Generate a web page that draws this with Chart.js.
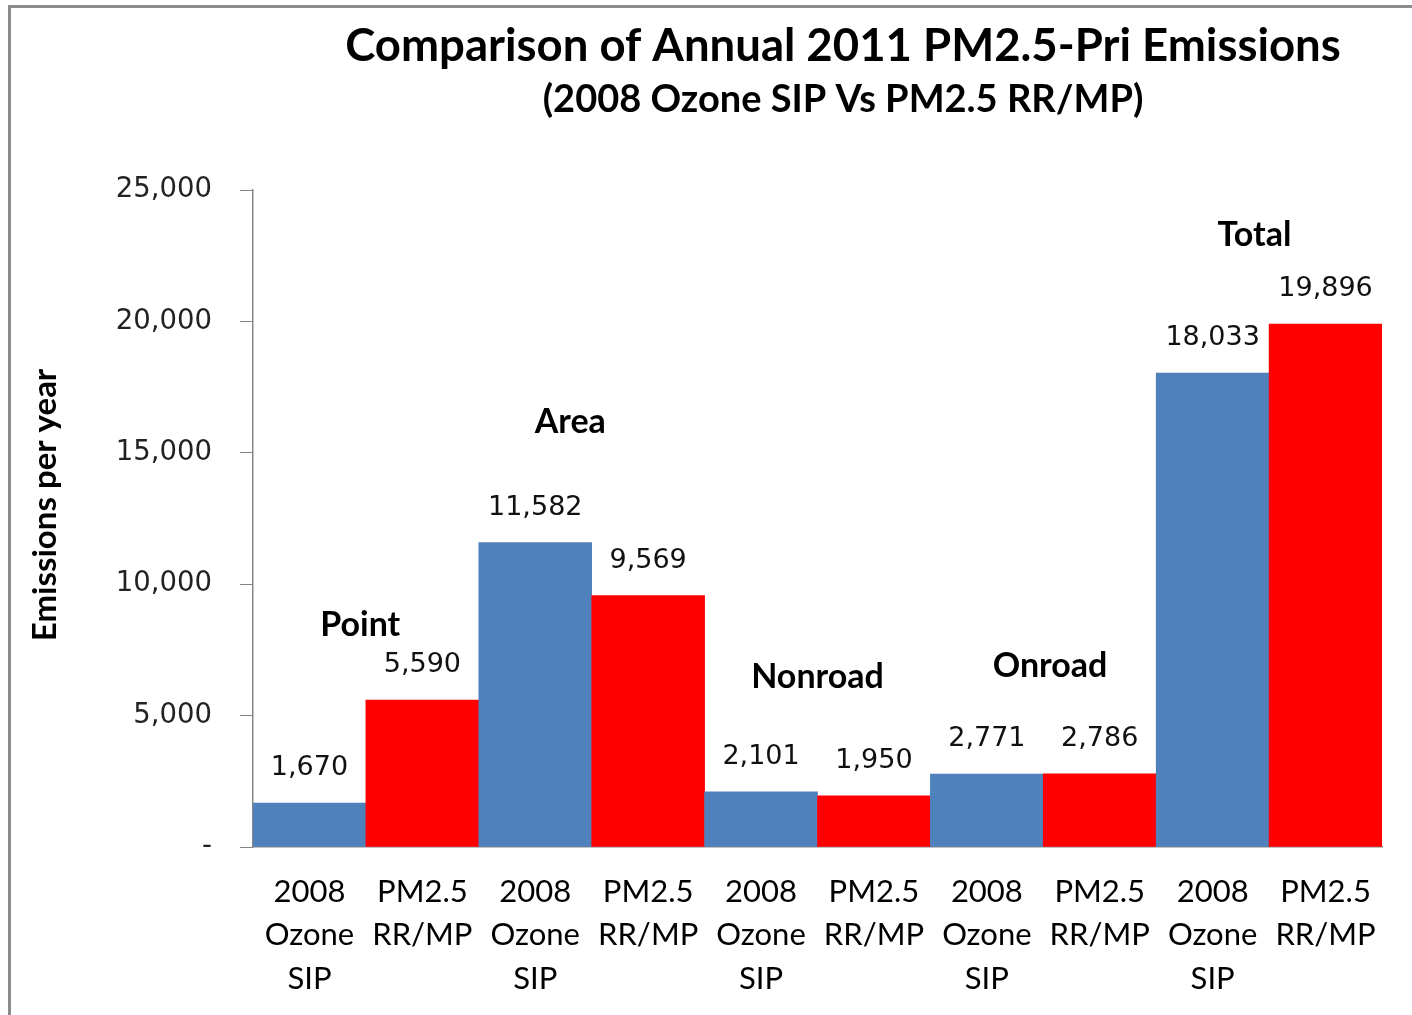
<!DOCTYPE html>
<html>
<head>
<meta charset="utf-8">
<script src="https://cdn.jsdelivr.net/npm/chart.js@4.4.1/dist/chart.umd.min.js"></script>
<style>
html, body { margin: 0; padding: 0; background: #fff; }
#wrap { position: relative; width: 1412px; height: 1015px; overflow: hidden; }
#frame { position: absolute; left: 8px; top: 5px; right: -10px; bottom: -10px;
         border-left: 3px solid #8c8c8c; border-top: 3px solid #8c8c8c; }
canvas { position: absolute; left: 0; top: 0; }
</style>
</head>
<body>
<div id="wrap"><div id="frame"></div><canvas id="chart" width="1412" height="1015"></canvas></div>
<script>
// data
const categories = [
    ['2008', 'Ozone', 'SIP'], ['PM2.5', 'RR/MP'],
    ['2008', 'Ozone', 'SIP'], ['PM2.5', 'RR/MP'],
    ['2008', 'Ozone', 'SIP'], ['PM2.5', 'RR/MP'],
    ['2008', 'Ozone', 'SIP'], ['PM2.5', 'RR/MP'],
    ['2008', 'Ozone', 'SIP'], ['PM2.5', 'RR/MP']
];
const emissions = [1670, 5590, 11582, 9569, 2101, 1950, 2771, 2786, 18033, 19896];
const sourceGroups = ['Point', 'Area', 'Nonroad', 'Onroad', 'Total'];
const yTickValues = [0, 5000, 10000, 15000, 20000, 25000];

// colours
const blue = '#4F81BD';
const red = '#FF0000';
const axisGray = '#868686';
const barColors = emissions.map((v, i) => i % 2 === 0 ? blue : red);

const fmt = (v) => v.toLocaleString('en-US');

// where the group text boxes sit (category index, y value)
const groupSpots = [[0.45, 8450], [2.31, 16170], [4.5, 6470], [6.56, 6890], [8.37, 23290]];

// ===== titles, axis title, bar values, group names
const extras = {
    id: 'extras',
    afterDatasetsDraw(chart) {
        const c = chart.ctx;
        const x = chart.scales.x;
        const y = chart.scales.y;
        c.save();
        c.fillStyle = '#000';
        c.textAlign = 'center';
        c.textBaseline = 'middle';
        // title
        c.font = 'bold 45.5px Lato';
        c.fillText('Comparison of Annual 2011 PM2.5-Pri Emissions', 843, 46);
        c.font = 'bold 38px Lato';
        c.fillText('(2008 Ozone SIP Vs PM2.5 RR/MP)', 843, 100);
        // y axis title
        c.save();
        c.translate(45, 505);
        c.rotate(-Math.PI / 2);
        c.font = 'bold 33px Lato';
        c.fillText('Emissions per year', 0, 0);
        c.restore();
        // values above bars
        c.font = '27px "DejaVu Sans"';
        c.fillStyle = '#111';
        chart.getDatasetMeta(0).data.forEach((bar, i) => {
            c.fillText(fmt(emissions[i]), bar.x, bar.y - 35);
        });
        // group names
        c.font = 'bold 34px Lato';
        c.fillStyle = '#000';
        sourceGroups.forEach((name, i) => {
            c.fillText(name, x.getPixelForValue(groupSpots[i][0]), y.getPixelForValue(groupSpots[i][1]));
        });
        c.restore();
    }
};

new Chart(document.querySelector('#chart'), {
    type: 'bar',
    data: {
        labels: categories,
        datasets: [{
            label: 'Emissions',
            data: emissions,
            backgroundColor: barColors,
            borderWidth: 0,
            barPercentage: 1,
            categoryPercentage: 1
        }]
    },
    options: {
        responsive: false,
        animation: false,
        devicePixelRatio: 1,
        layout: { padding: { top: 190, right: 30, left: 0, bottom: 0 } },
        plugins: {
            legend: { display: false },
            tooltip: { enabled: false }
        },
        scales: {
            x: {
                grid: { display: false },
                border: { display: true, color: axisGray, width: 1.5 },
                ticks: {
                    color: '#000',
                    font: { family: 'Lato', size: 31, lineHeight: 1.4 },
                    padding: 15,
                    maxRotation: 0,
                    autoSkip: false
                },
                afterFit: (s) => { s.height = 168; }
            },
            y: {
                min: 0,
                max: 25000,
                afterBuildTicks: (s) => { s.ticks = yTickValues.map(v => ({ value: v })); },
                grid: { drawOnChartArea: false, drawTicks: true, tickLength: 13, color: axisGray },
                border: { display: true, color: axisGray, width: 1.5 },
                ticks: {
                    color: '#222',
                    font: { family: 'DejaVu Sans', size: 27.5 },
                    padding: 28,
                    callback: (v) => v === 0 ? '-' : fmt(v)
                },
                afterFit: (s) => { s.width = 253; }
            }
        }
    },
    plugins: [extras]
});
</script>
</body>
</html>
